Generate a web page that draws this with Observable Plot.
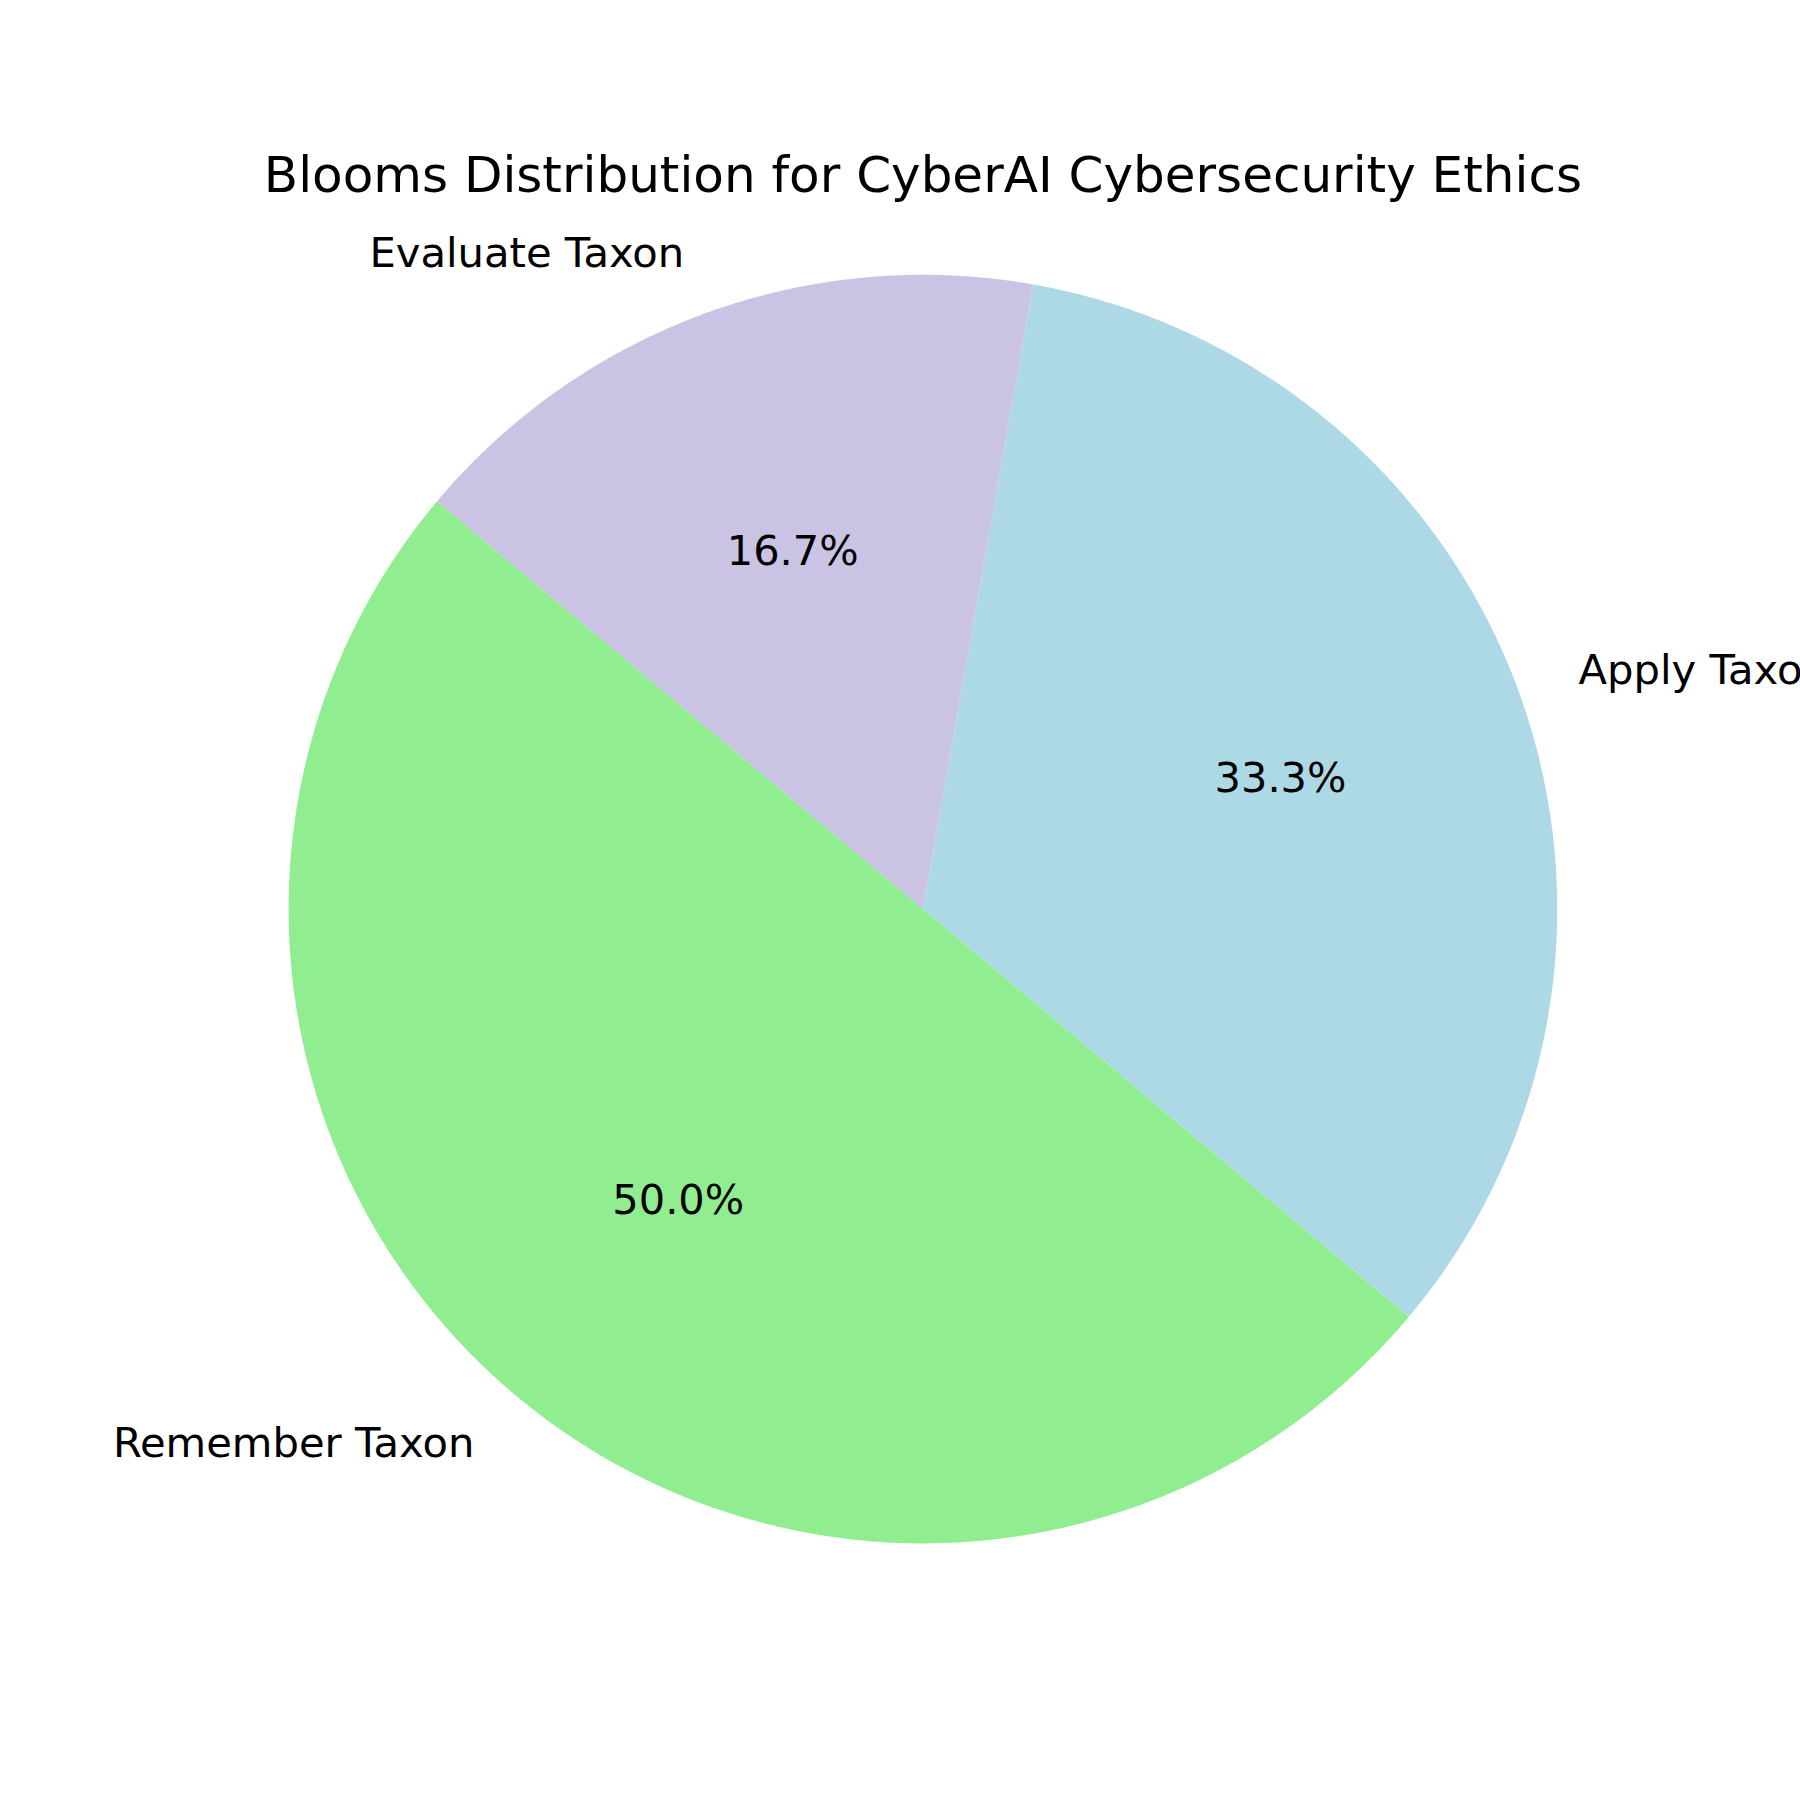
<!DOCTYPE html>
<html>
<head>
<meta charset="utf-8">
<script src="https://cdn.jsdelivr.net/npm/d3@7"></script>
<script src="https://cdn.jsdelivr.net/npm/@observablehq/plot@0.6"></script>
<style>
  html, body { margin: 0; padding: 0; background: #ffffff; }
</style>
</head>
<body>
<div id="chart"></div>
<script>
// ---- data ----
const titleText = "Blooms Distribution for CyberAI Cybersecurity Ethics";
const categories = ["Apply Taxon", "Evaluate Taxon", "Remember Taxon"];
const counts = [2, 1, 3];
const sliceColors = ["#ADD8E6", "#CBC3E3", "#90EE90"];
const startAngleDeg = -40; // matplotlib-like start angle, counterclockwise

// ---- layout (pixels) ----
const W = 1800, H = 1800;
const cx = 922.4, cy = 908.6, R = 634.3;

// ---- derived slice geometry (unit circle coordinates) ----
const total = d3.sum(counts);
let acc = startAngleDeg;
const slices = categories.map((c, i) => {
  const span = counts[i] / total * 360;
  const a0 = acc, a1 = acc + span;
  acc = a1;
  return {label: c, value: counts[i], a0, a1, mid: (a0 + a1) / 2, pct: counts[i] / total * 100};
});

const wedgePts = [];
for (const s of slices) {
  wedgePts.push({label: s.label, x: 0, y: 0});
  const n = Math.ceil((s.a1 - s.a0) / 0.25);
  for (let k = 0; k <= n; k++) {
    const a = (s.a0 + (s.a1 - s.a0) * k / n) * Math.PI / 180;
    wedgePts.push({label: s.label, x: Math.cos(a), y: Math.sin(a)});
  }
  wedgePts.push({label: s.label, x: 0, y: 0});
}

const rad = d => d * Math.PI / 180;
const outerLabels = slices.map(s => ({
  label: s.label,
  x: 1.1 * Math.cos(rad(s.mid)),
  y: 1.1 * Math.sin(rad(s.mid))
}));
const pctLabels = slices.map(s => ({
  text: s.pct.toFixed(1) + "%",
  x: 0.6 * Math.cos(rad(s.mid)),
  y: 0.6 * Math.sin(rad(s.mid))
}));

const font = "DejaVu Sans, Liberation Sans, sans-serif";

const chart = Plot.plot({
  width: W,
  height: H,
  margin: 0,
  style: {fontFamily: font, background: "#ffffff"},
  x: {domain: [-cx / R, (W - cx) / R], range: [0, W], axis: null},
  y: {domain: [-(H - cy) / R, cy / R], range: [H, 0], axis: null},
  color: {domain: categories, range: sliceColors},
  marks: [
    Plot.line(wedgePts, {x: "x", y: "y", z: "label", fill: "label", stroke: "none", curve: "linear"}),
    Plot.text(outerLabels.filter(d => d.x >= 0), {
      x: "x", y: "y", text: "label", textAnchor: "start", fontSize: 41.7, fill: "#000000", lineAnchor: "middle"
    }),
    Plot.text(outerLabels.filter(d => d.x < 0), {
      x: "x", y: "y", text: "label", textAnchor: "end", fontSize: 41.7, fill: "#000000", lineAnchor: "middle"
    }),
    Plot.text(pctLabels, {
      x: "x", y: "y", text: "text", textAnchor: "middle", fontSize: 41.5, fill: "#000000", lineAnchor: "middle"
    }),
    Plot.text([titleText], {
      x: () => 0, y: () => (cy - 175) / R, text: d => d, fontSize: 50, fill: "#000000", textAnchor: "middle", lineAnchor: "middle"
    })
  ]
});

document.getElementById("chart").appendChild(chart);
</script>
</body>
</html>
